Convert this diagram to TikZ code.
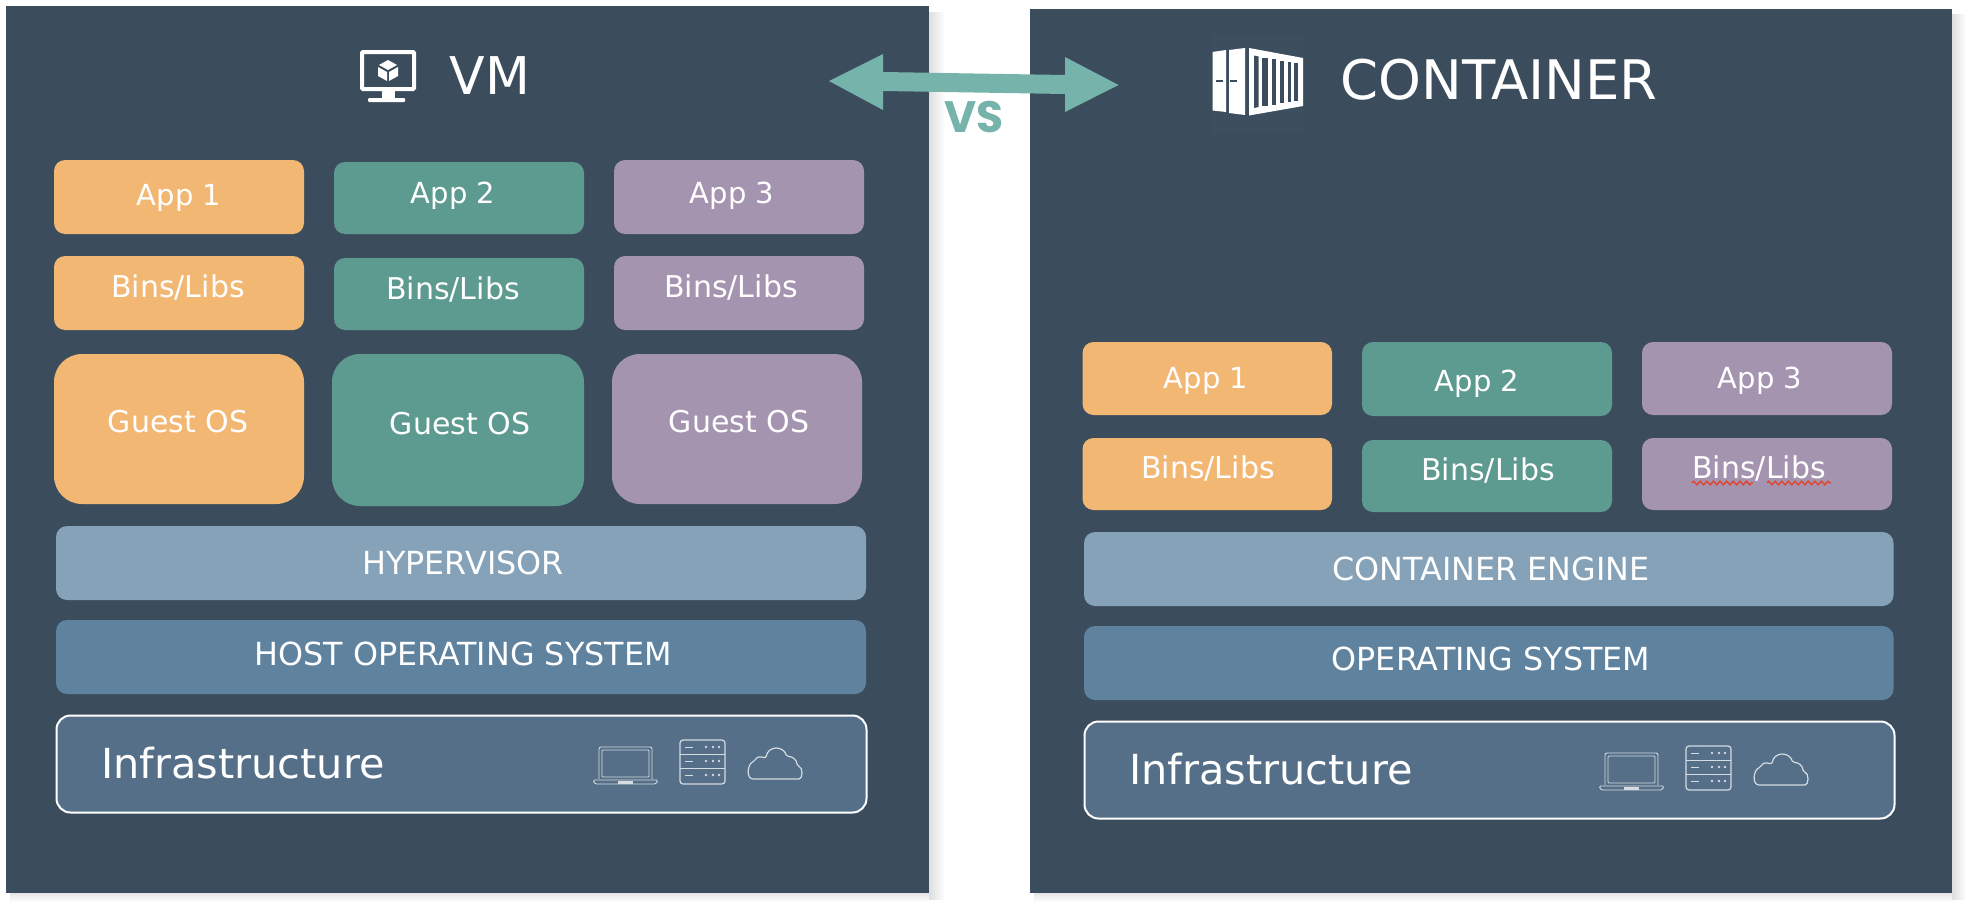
\documentclass[tikz,border=0pt]{standalone}
\usepackage{fontspec}
\setmainfont{DejaVu Sans}
\newfontfamily\vsfont{Poppins}
\usetikzlibrary{decorations.pathmorphing}
\definecolor{panelc}{HTML}{3B4D5D}
\definecolor{hatchc}{HTML}{3D4F5F}
\definecolor{orangec}{HTML}{F3B774}
\definecolor{greenc}{HTML}{5D9A8F}
\definecolor{purplec}{HTML}{A594B0}
\definecolor{layera}{HTML}{85A2B8}
\definecolor{layerb}{HTML}{5F829F}
\definecolor{infrac}{HTML}{546F87}
\definecolor{arrowc}{HTML}{76B3AB}
\definecolor{wavec}{HTML}{E0452F}
\definecolor{iconc}{HTML}{D5DCE2}
\tikzset{
  x=1pt,y=-1pt,
  panel/.style={fill=panelc,draw=none},
  tile/.style={draw=none,rounded corners=11pt},
  bigtile/.style={draw=none,rounded corners=28pt},
  infra/.style={fill=infrac,draw=white,line width=2pt,rounded corners=14pt},
  icon/.style={draw=iconc,line width=1.2pt,fill=none},
  thinicon/.style={draw=iconc,line width=.9pt,fill=none},
  wave/.style={draw=wavec,line width=1.4pt,decorate,decoration={zigzag,amplitude=1.8pt,segment length=6.6pt}},
  infraicons/.pic={
    % laptop
    \draw[thinicon,rounded corners=2pt] (29,18) -- (29,-14) -- (-24,-14) -- (-24,18);
    \draw[thinicon,rounded corners=1pt] (26,16) -- (26,-11) -- (-21,-11) -- (-21,16) -- cycle;
    \draw[thinicon,rounded corners=1.5pt] (-30,19) -- (35,19) -- (33,23) -- (-28,23) -- cycle;
    \fill[iconc] (-5,20) rectangle (10,23);
    % server
    \draw[icon,rounded corners=3pt] (57,-21) rectangle (102,23);
    \draw[icon] (57,-6.5) -- (102,-6.5) (57,7.5) -- (102,7.5);
    \foreach \yy in {-14,0,14}{
      \draw[thinicon] (62,\yy) -- (70,\yy);
      \foreach \xx in {83,90,96}{\fill[iconc] (\xx,\yy) circle (1.4pt);}
    }
    % cloud
    \draw[icon,rounded corners=2pt] (132,18)
      .. controls (123,18) and (124,3) .. (132,0)
      .. controls (134,-5) and (139,-4) .. (143,-3)
      .. controls (145,-15) and (160,-16) .. (164,-4)
      .. controls (169,-5) and (174,-1) .. (174,5)
      .. controls (180,6) and (180,18) .. (174,18) -- cycle;
  }
}
% name, x1, y1, x2, y2, style, fill
\newcommand{\tbox}[7]{\node[#6,fill=#7,minimum width={#4-#2},minimum height={#5-#3},inner sep=0pt] (#1) at ({(#2+#4)/2},{(#3+#5)/2}) {};}
% name, x, ycap-center, size, text
\newcommand{\tlbl}[5]{\node[anchor=base,inner sep=0pt,text=white] (#1) at (#2,{#3+0.3645*#4}) {\fontsize{#4}{#4}\selectfont #5};}
\begin{document}
\begin{tikzpicture}
\useasboundingbox (0,0) rectangle (1970,910);
\fill[white] (0,0) rectangle (1970,910);
% shadows
\shade[left color=black!13,right color=white] (929,12) rectangle (945,899);
\shade[top color=black!10,bottom color=white] (10,893) rectangle (929,902);
\shade[left color=black!13,right color=white] (1952,14) rectangle (1966,899);
\shade[top color=black!10,bottom color=white] (1034,893) rectangle (1952,902);
% panels
\node[panel,minimum width=923,minimum height=887,inner sep=0pt] (vmpanel) at (467.5,449.5) {};
\node[panel,minimum width=922,minimum height=884,inner sep=0pt] (ctpanel) at (1491,451) {};
% VM column
\tbox{vapp1}{54}{160}{304}{234}{tile}{orangec}
\tbox{vapp2}{334}{162}{584}{234}{tile}{greenc}
\tbox{vapp3}{614}{160}{864}{234}{tile}{purplec}
\tbox{vbin1}{54}{256}{304}{330}{tile}{orangec}
\tbox{vbin2}{334}{258}{584}{330}{tile}{greenc}
\tbox{vbin3}{614}{256}{864}{330}{tile}{purplec}
\tbox{vos1}{54}{354}{304}{504}{bigtile}{orangec}
\tbox{vos2}{332}{354}{584}{506}{bigtile}{greenc}
\tbox{vos3}{612}{354}{862}{504}{bigtile}{purplec}
\tbox{vhyp}{56}{526}{866}{600}{tile}{layera}
\tbox{vhost}{56}{620}{866}{694}{tile}{layerb}
\node[infra,minimum width=810,minimum height=97,inner sep=0pt] (vinf) at (461.5,764) {};
% Container column
\tbox{capp1}{1082.5}{342}{1332}{415}{tile}{orangec}
\tbox{capp2}{1362}{342}{1612}{416}{tile}{greenc}
\tbox{capp3}{1642}{342}{1892}{415}{tile}{purplec}
\tbox{cbin1}{1082.5}{438}{1332}{510}{tile}{orangec}
\tbox{cbin2}{1362}{440}{1612}{512}{tile}{greenc}
\tbox{cbin3}{1642}{438}{1892}{510}{tile}{purplec}
\tbox{ceng}{1084}{532}{1893.5}{606}{tile}{layera}
\tbox{cos}{1084}{626}{1893.5}{700}{tile}{layerb}
\node[infra,minimum width=810,minimum height=97,inner sep=0pt] (cinf) at (1489.5,770) {};
% labels
\def\sm{29}
\def\bl{30}
\def\up{31.8}
\tlbl{t1}{179}{195}{\sm}{App 1}
\tlbl{t2}{453}{193}{\sm}{App 2}
\tlbl{t3}{732}{193}{\sm}{App 3}
\tlbl{t4}{178}{287}{\bl}{Bins/Libs}
\tlbl{t5}{453}{289}{\bl}{Bins/Libs}
\tlbl{t6}{731}{287}{\bl}{Bins/Libs}
\tlbl{t7}{178}{422}{\bl}{Guest OS}
\tlbl{t8}{460}{424}{\bl}{Guest OS}
\tlbl{t9}{739}{422}{\bl}{Guest OS}
\tlbl{t10}{463}{563}{\up}{HYPERVISOR}
\tlbl{t11}{463}{654}{\up}{HOST OPERATING SYSTEM}
\tlbl{t12}{243}{763}{41.4}{Infrastructure}
\tlbl{t13}{1206}{378}{\sm}{App 1}
\tlbl{t14}{1477}{381}{\sm}{App 2}
\tlbl{t15}{1760}{378}{\sm}{App 3}
\tlbl{t16}{1208}{468}{\bl}{Bins/Libs}
\tlbl{t17}{1488}{470}{\bl}{Bins/Libs}
\tlbl{t18}{1759}{468}{\bl}{Bins/Libs}
\tlbl{t19}{1491}{569}{\up}{CONTAINER ENGINE}
\tlbl{t20}{1491}{659}{\up}{OPERATING SYSTEM}
\tlbl{t21}{1271}{769}{41.4}{Infrastructure}
\tlbl{t22}{490}{76}{52}{VM}
\tlbl{t23}{1499}{80}{54.5}{CONTAINER}
% spell-check squiggle
\draw[wave] (1692,483) -- (1753,483);
\draw[wave] (1767,483) -- (1831,483);
% infrastructure icons
\pic at (623,761) {infraicons};
\pic at (1629,767) {infraicons};
% VS arrow
\fill[arrowc] (829,81) -- (883,54) -- (883,72) -- (1065,75) -- (1065,57) -- (1118.5,85) -- (1065,112) -- (1065,94) -- (883,91) -- (883,110) -- cycle;
\node[anchor=base,inner sep=0pt,text=arrowc] (vs) at (974,132.5) {\vsfont\bfseries\fontsize{44}{44}\selectfont VS};
% monitor icon
\draw[white,line width=4pt,rounded corners=1pt] (362,52) rectangle (414,89);
\fill[white] (382,89) rectangle (395,98);
\fill[white,rounded corners=1pt] (368,98) rectangle (405,102);
\fill[white] (388,60) -- (397,65) -- (388,70) -- (379,65) -- cycle;
\fill[white] (378,67) -- (387,72) -- (387,81) -- (378,76) -- cycle;
\fill[white] (398,67) -- (389,72) -- (389,81) -- (398,76) -- cycle;
% container icon
\fill[hatchc] (1212,34) rectangle (1303,134);
\fill[white] (1212.5,52) -- (1226,50) -- (1226,112) -- (1212.5,110.5) -- cycle;
\fill[white] (1229,50) -- (1245,48) -- (1245,115) -- (1229,113) -- cycle;
\fill[white] (1249,48) -- (1303,58) -- (1303,106) -- (1249,115.5) -- cycle;
\fill[panelc] (1254,55.5) -- (1258.5,56.5) -- (1258.5,107) -- (1254,108) -- cycle;
\foreach \xa/\xb/\t/\b in {1262/1268/57.5/106, 1272/1276/59/104.5, 1280/1284/60.5/103, 1288/1291/62/101.5, 1294/1298/63/100.5}{
  \fill[panelc] (\xa,\t) rectangle (\xb,\b);
}
\fill[panelc] (1216,79.5) rectangle (1223,82);
\fill[panelc] (1230,79.5) rectangle (1237,82);
\end{tikzpicture}
\end{document}
